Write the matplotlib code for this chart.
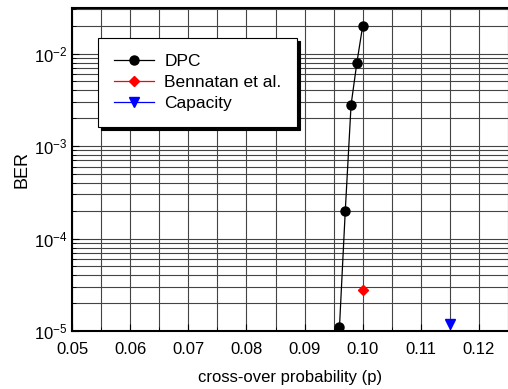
import matplotlib

matplotlib.use("Agg")
import matplotlib.pyplot as plt
from matplotlib.ticker import LogLocator, MultipleLocator, FixedLocator

plt.rcParams["font.family"] = ["Liberation Sans", "DejaVu Sans"]
plt.rcParams["mathtext.fontset"] = "custom"
plt.rcParams["mathtext.rm"] = "Liberation Sans"
plt.rcParams["mathtext.it"] = "Liberation Sans:italic"
plt.rcParams["mathtext.bf"] = "Liberation Sans:bold"

dpc_p = [0.096, 0.097, 0.098, 0.099, 0.100]
dpc_ber = [1.1e-5, 2.0e-4, 2.8e-3, 8.0e-3, 2.0e-2]
bennatan_p = [0.100]
bennatan_ber = [2.8e-5]
capacity_p = [0.115]
capacity_ber = [1.2e-5]
x_ticks = [0.05, 0.06, 0.07, 0.08, 0.09, 0.10, 0.11, 0.12]

fig = plt.figure(figsize=(5.08, 3.89), dpi=100)
ax = fig.add_axes([0.142, 0.149, 0.858, 0.830])

ax.plot(dpc_p, dpc_ber, color="black", linewidth=0.9, marker="o",
        markersize=6.5, label="DPC")
ax.plot(bennatan_p, bennatan_ber, color="red", linewidth=0.9, marker="D",
        markersize=5.5, label="Bennatan et al.")
ax.plot(capacity_p, capacity_ber, color="blue", linewidth=0.9, marker="v",
        markersize=6.5, label="Capacity")

ax.set_yscale("log")
ax.set_xlim(0.05, 0.125)
ax.set_ylim(1e-5, 3.1e-2)

ax.xaxis.set_major_locator(FixedLocator(x_ticks))
ax.xaxis.set_minor_locator(MultipleLocator(0.005))
ax.set_xticklabels([f"{v:.2f}" for v in x_ticks])
ax.yaxis.set_major_locator(LogLocator(base=10, numticks=10))
ax.yaxis.set_minor_locator(LogLocator(base=10, subs=range(2, 10), numticks=20))

ax.grid(which="major", color="#444444", linewidth=0.8)
ax.grid(which="minor", color="#444444", linewidth=0.8)
ax.tick_params(which="both", direction="in", labelsize=12, top=False, right=False)
ax.tick_params(which="major", length=5)
ax.tick_params(which="minor", length=3)
ax.tick_params(axis="x", which="major", pad=8)
ax.tick_params(axis="y", which="minor", labelleft=False)

for side in ["left", "bottom", "top"]:
    ax.spines[side].set_linewidth(1.5)
ax.spines["right"].set_visible(False)

ax.set_xlabel("cross-over probability (p)", fontsize=12, labelpad=9)
ax.set_ylabel("BER", fontsize=13, labelpad=2)

leg = ax.legend(loc="upper left", bbox_to_anchor=(0.06, 0.907), fontsize=12.5,
                frameon=True, fancybox=False, edgecolor="black", framealpha=1,
                shadow={"color": "black", "alpha": 1}, borderpad=0.9,
                borderaxespad=0, handlelength=2.3, handletextpad=0.6,
                labelspacing=0.35)
leg.get_frame().set_linewidth(0.8)

fig.savefig("out.png", dpi=100)
